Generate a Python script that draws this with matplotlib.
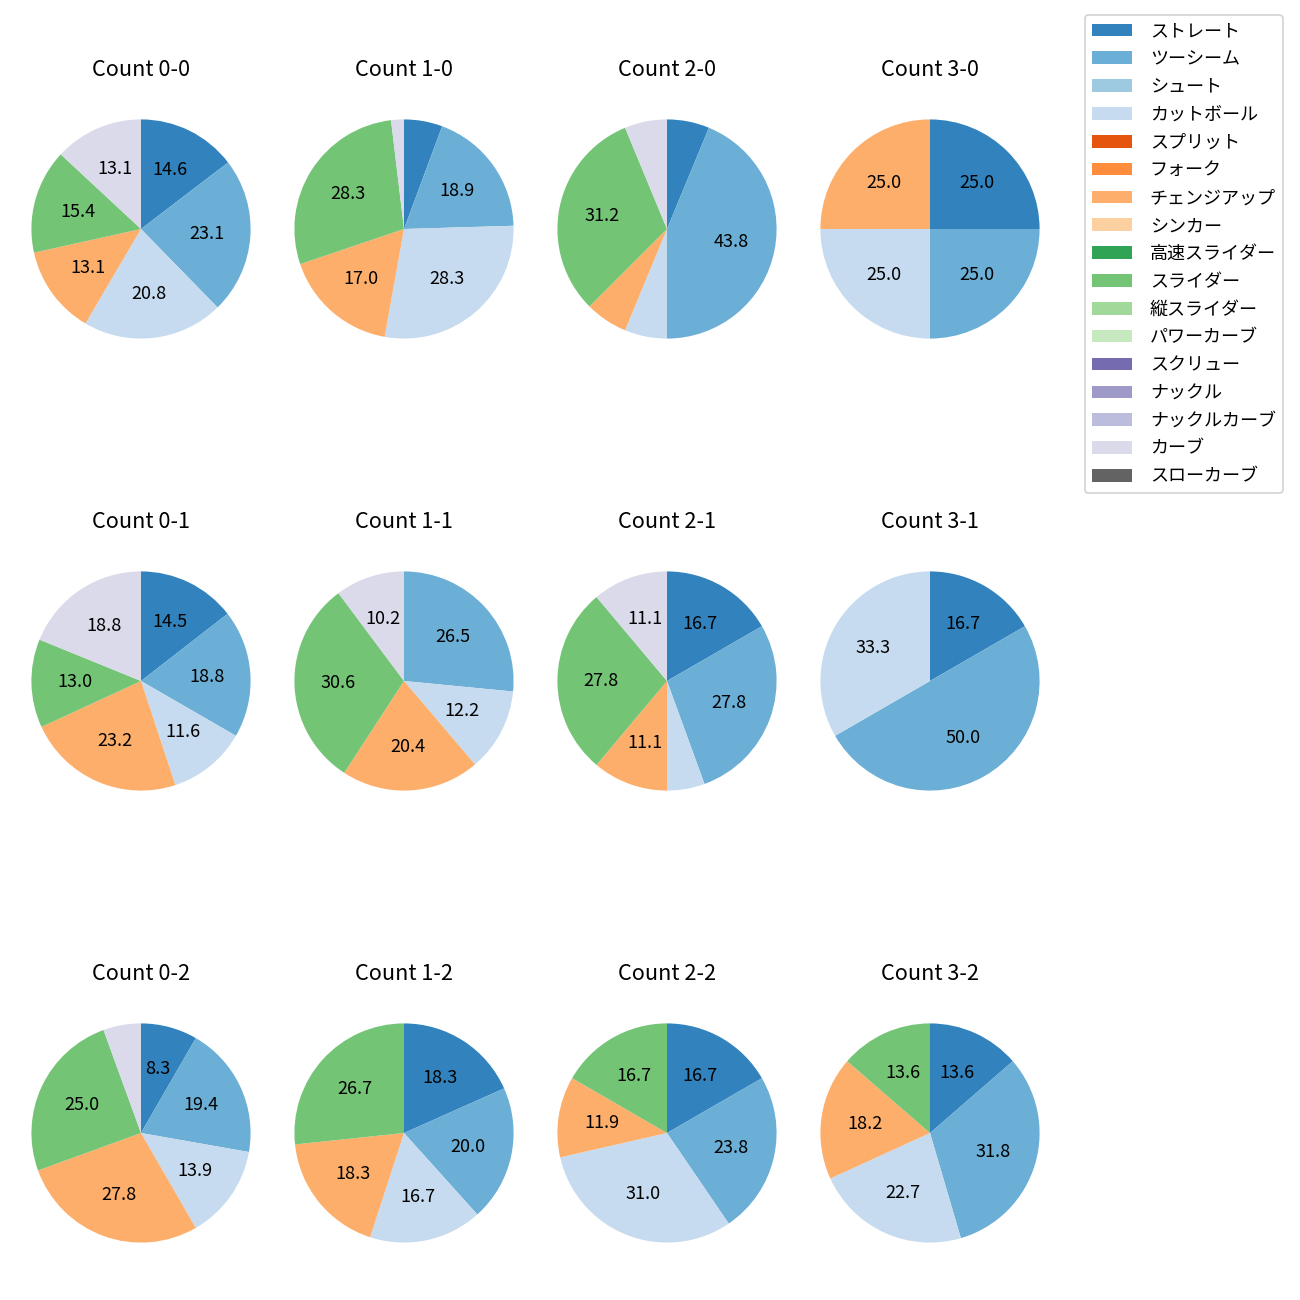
import matplotlib
matplotlib.use("Agg")
import matplotlib.pyplot as plt
from matplotlib.patches import Patch

plt.rcParams['font.family'] = ['Noto Sans CJK JP', 'DejaVu Sans']

pitch_types = ['ストレート', 'ツーシーム', 'シュート', 'カットボール', 'スプリット', 'フォーク',
               'チェンジアップ', 'シンカー', '高速スライダー', 'スライダー', '縦スライダー',
               'パワーカーブ', 'スクリュー', 'ナックル', 'ナックルカーブ', 'カーブ', 'スローカーブ']

counts = ['0-0', '1-0', '2-0', '3-0',
          '0-1', '1-1', '2-1', '3-1',
          '0-2', '1-2', '2-2', '3-2']

# pitch counts per ball-strike count (order follows pitch_types)
straight  = [19, 3, 1, 1, 10, 0, 3, 1, 3, 11, 7, 3]
twoseam   = [30, 10, 7, 1, 13, 13, 5, 3, 7, 12, 10, 7]
cutball   = [27, 15, 1, 1, 8, 6, 1, 2, 5, 10, 13, 5]
changeup  = [17, 9, 1, 1, 16, 10, 2, 0, 10, 11, 5, 4]
slider    = [20, 15, 5, 0, 9, 15, 5, 0, 9, 16, 7, 3]
curve     = [17, 1, 1, 0, 13, 5, 2, 0, 2, 0, 0, 0]

series = {
    'ストレート': straight,
    'ツーシーム': twoseam,
    'カットボール': cutball,
    'チェンジアップ': changeup,
    'スライダー': slider,
    'カーブ': curve,
}

cmap = plt.get_cmap('tab20c')
colors = {name: cmap(i) for i, name in enumerate(pitch_types)}

W = H = 1300
fig = plt.figure(figsize=(10, 10), dpi=130)

col_cx = [141, 404, 667, 930]
row_cy = [229, 681, 1133]
size = 263

for i, cnt in enumerate(counts):
    r, c = divmod(i, 4)
    cx, cy = col_cx[c], row_cy[r]
    ax = fig.add_axes([(cx - size / 2) / W, 1 - (cy + size / 2) / H, size / W, size / H])
    vals, cols = [], []
    for name, arr in series.items():
        if arr[i] > 0:
            vals.append(arr[i])
            cols.append(colors[name])
    ax.pie(vals, colors=cols, startangle=90, counterclock=False,
           autopct=lambda p: f'{p:.1f}' if p >= 7 else '',
           textprops={'fontsize': 10})
    ax.set_xlim(-1.2, 1.2)
    ax.set_ylim(-1.2, 1.2)
    ax.set_title(f'Count {cnt}', fontsize=12, pad=12)

handles = [Patch(facecolor=colors[n], label=n) for n in pitch_types]
fig.legend(handles=handles, loc='upper right',
           bbox_to_anchor=(1283 / W, 1 - 15 / H), borderaxespad=0, fontsize=10,
           labelspacing=0.545, handlelength=2.2, handletextpad=1.0)

fig.savefig('out.png', dpi=130)
